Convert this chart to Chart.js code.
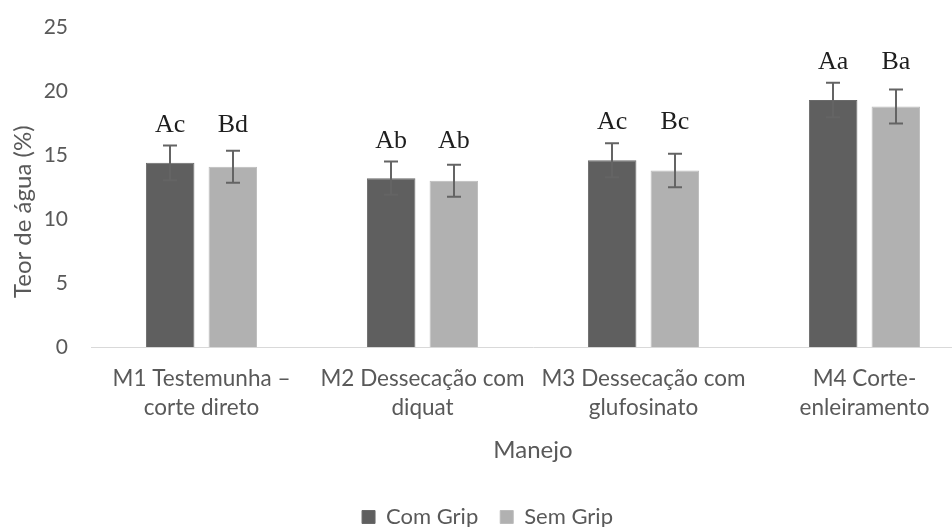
<!DOCTYPE html>
<html>
<head>
<meta charset="utf-8">
<script src="https://cdn.jsdelivr.net/npm/chart.js@4.4.1/dist/chart.umd.min.js"></script>
<style>
  html, body { margin: 0; padding: 0; background: #fff; overflow: hidden; }
  #frame { width: 952px; height: 527px; overflow: hidden; position: relative; }
  #wrap { width: 975px; height: 538px; position: absolute; left: 0; top: 0; }
</style>
</head>
<body>
<div id="frame"><div id="wrap"><canvas id="c"></canvas></div></div>
<script>
// Manejo categories (two-line labels)
const categories = [
  ["M1 Testemunha –", "corte direto"],
  ["M2 Dessecação com", "diquat"],
  ["M3 Dessecação com", "glufosinato"],
  ["M4 Corte-", "enleiramento"]
];
// Teor de água (%) per series
const comGrip = [14.4, 13.2, 14.6, 19.3];
const semGrip = [14.1, 13.0, 13.8, 18.8];
// error bar half-lengths
const comGripErr = [1.35, 1.3, 1.33, 1.35];
const semGripErr = [1.25, 1.25, 1.3, 1.33];
// mean comparison letters
const comGripLetters = ["Ac", "Ab", "Ac", "Aa"];
const semGripLetters = ["Bd", "Ab", "Bc", "Ba"];
// y axis ticks
const yTicks = [0, 5, 10, 15, 20, 25];

const errors = [comGripErr, semGripErr];
const letters = [comGripLetters, semGripLetters];

const TEXT = '#595959';
const SANS = "Lato, 'Open Sans', sans-serif";

// whiskers with caps on every bar
const errorBars = {
  id: 'errorBars',
  afterDatasetsDraw(chart) {
    const ctx = chart.ctx;
    const y = chart.scales.y;
    ctx.save();
    ctx.strokeStyle = '#646464';
    ctx.lineWidth = 2;
    chart.data.datasets.forEach((ds, i) => {
      const meta = chart.getDatasetMeta(i);
      meta.data.forEach((bar, j) => {
        const v = ds.data[j], e = errors[i][j];
        const top = y.getPixelForValue(v + e);
        const bot = y.getPixelForValue(v - e);
        const x = Math.round(bar.x);
        ctx.beginPath();
        ctx.moveTo(x, top); ctx.lineTo(x, bot);
        ctx.moveTo(x - 7, top); ctx.lineTo(x + 7, top);
        ctx.moveTo(x - 7, bot); ctx.lineTo(x + 7, bot);
        ctx.stroke();
      });
    });
    ctx.restore();
  }
};

// letters above each group of bars
const groupLetters = {
  id: 'groupLetters',
  afterDatasetsDraw(chart) {
    const ctx = chart.ctx;
    const y = chart.scales.y;
    const metas = [chart.getDatasetMeta(0), chart.getDatasetMeta(1)];
    ctx.save();
    ctx.font = "26px 'Liberation Serif', serif";
    ctx.fillStyle = '#1e1e1e';
    ctx.textAlign = 'center';
    ctx.textBaseline = 'alphabetic';
    categories.forEach((c, j) => {
      const tops = chart.data.datasets.map((ds, i) => y.getPixelForValue(ds.data[j] + errors[i][j]));
      const base = Math.min(...tops) - 14;
      metas.forEach((m, i) => {
        ctx.fillText(letters[i][j], m.data[j].x, base);
      });
    });
    ctx.restore();
  }
};

new Chart(document.getElementById('c'), {
  type: 'bar',
  data: {
    labels: categories,
    datasets: [
      { label: 'Com Grip', data: comGrip, backgroundColor: '#5f5f5f', borderColor: '#6a6a6a', borderWidth: 1,
        categoryPercentage: 0.567, barPercentage: 0.774 },
      { label: 'Sem Grip', data: semGrip, backgroundColor: '#b1b1b1', borderColor: '#bcbcbc', borderWidth: 1,
        categoryPercentage: 0.567, barPercentage: 0.774 }
    ]
  },
  options: {
    responsive: true,
    maintainAspectRatio: false,
    animation: false,
    layout: { padding: { top: 27, left: 0, right: 0, bottom: 0 } },
    scales: {
      x: {
        grid: { display: false, drawTicks: false },
        border: { display: true, color: '#d9d9d9', width: 1 },
        ticks: { color: TEXT, font: { family: SANS, size: 22.5, lineHeight: 1.33 }, padding: 16, maxRotation: 0, autoSkip: false },
        title: { display: true, text: 'Manejo', color: TEXT, font: { family: SANS, size: 24 }, padding: { top: -3, bottom: 19 } }
      },
      y: {
        min: 0, max: 25,
        afterBuildTicks: s => { s.ticks = yTicks.map(v => ({ value: v })); },
        afterFit: s => { s.width = 91; },
        grid: { display: false, drawTicks: true, tickLength: 18 },
        border: { display: false },
        ticks: { color: TEXT, font: { family: SANS, size: 21 }, padding: 5 },
        title: { display: true, text: 'Teor de água (%)' + '\u00a0'.repeat(8), color: TEXT, font: { family: SANS, size: 24 }, padding: { top: 9, bottom: 0 } }
      }
    },
    plugins: {
      legend: {
        position: 'bottom',
        labels: { color: TEXT, font: { family: SANS, size: 22 }, boxWidth: 13, boxHeight: 13, padding: 22 }
      },
      tooltip: { enabled: false }
    }
  },
  plugins: [errorBars, groupLetters]
});
</script>
</body>
</html>
